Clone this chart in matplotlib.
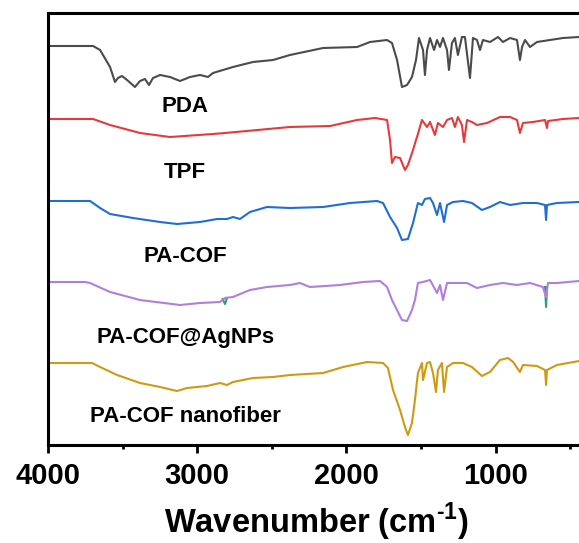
import matplotlib
matplotlib.use("Agg")
import matplotlib.pyplot as plt
from matplotlib.ticker import MultipleLocator

plt.rcParams['font.family'] = ['Liberation Sans', 'DejaVu Sans']
plt.rcParams['mathtext.fontset'] = 'custom'
plt.rcParams['mathtext.rm'] = 'Liberation Sans:bold'
plt.rcParams['mathtext.bf'] = 'Liberation Sans:bold'

# FTIR spectra, wavenumber (cm-1) vs. offset transmittance (a.u.)
pda_w = [4000, 3698, 3651, 3584, 3551, 3531, 3504, 3470, 3417, 3383, 3350, 3323,
         3296, 3249, 3182, 3115, 3048, 2981, 2927, 2894, 2760, 2626, 2492, 2378,
         2156, 1928, 1841, 1727, 1694, 1660, 1627, 1593, 1560, 1533, 1513, 1486,
         1473, 1459, 1439, 1412, 1392, 1372, 1352, 1325, 1312, 1292, 1272, 1252,
         1225, 1205, 1171, 1151, 1124, 1104, 1084, 1037, 983, 950, 902, 856, 836,
         822, 802, 769, 722, 635, 547, 440, 400]
pda_t = [399, 399, 395, 378, 363, 367, 369, 365, 358, 364, 366, 360,
         367, 370, 368, 364, 368, 370, 368, 372, 378, 383, 385, 390,
         397, 398, 403, 405, 402, 385, 358, 360, 368, 385, 407, 395,
         370, 395, 407, 395, 405, 398, 407, 395, 375, 402, 407, 390,
         408, 408, 367, 407, 405, 395, 405, 403, 408, 403, 407, 405, 385,
         398, 405, 398, 403, 405, 407, 408, 408]

tpf_w = [4000, 3698, 3584, 3383, 3182, 2894, 2813, 2378, 2109, 1928, 1807, 1727,
         1707, 1694, 1674, 1640, 1607, 1587, 1553, 1533, 1526, 1493, 1459, 1439,
         1406, 1386, 1352, 1325, 1292, 1272, 1252, 1225, 1211, 1191, 1158, 1124,
         1057, 970, 902, 856, 836, 816, 749, 668, 655, 648, 547, 440, 400]
tpf_t = [326, 326, 320, 312, 308, 311, 312, 318, 319, 325, 327, 325,
         305, 282, 288, 287, 275, 280, 295, 305, 308, 325, 318, 323,
         310, 322, 318, 325, 327, 318, 328, 320, 303, 325, 323, 320,
         322, 328, 328, 325, 312, 322, 323, 325, 317, 324, 326, 327, 327]

pacof_w = [4000, 3718, 3651, 3584, 3430, 3249, 3135, 2981, 2867, 2800, 2760, 2713,
           2646, 2532, 2378, 2156, 1975, 1794, 1754, 1707, 1660, 1627, 1587, 1553,
           1520, 1493, 1473, 1439, 1419, 1392, 1372, 1345, 1325, 1285, 1218, 1158,
           1091, 1037, 970, 902, 816, 722, 668, 661, 655, 588, 440, 400]
pacof_t = [244, 244, 237, 231, 227, 223, 221, 223, 226, 226, 228, 226,
           233, 238, 237, 238, 242, 244, 242, 228, 217, 205, 206, 222,
           242, 240, 246, 247, 242, 230, 242, 223, 240, 243, 244, 242,
           235, 238, 243, 240, 242, 242, 240, 225, 240, 242, 243, 243]

agnp_w = [4000, 3752, 3718, 3584, 3383, 3115, 2981, 2847, 2813, 2760, 2646, 2532,
          2378, 2311, 2244, 2042, 1888, 1774, 1727, 1694, 1627, 1593, 1560, 1540,
          1520, 1486, 1439, 1392, 1372, 1352, 1325, 1258, 1191, 1124, 1037, 950,
          856, 769, 682, 661, 648, 588, 440, 400]
agnp_t = [163, 163, 162, 153, 145, 140, 142, 143, 147, 148, 155, 158,
          160, 162, 158, 160, 163, 164, 158, 145, 125, 124, 135, 145,
          162, 163, 165, 152, 160, 145, 162, 162, 162, 157, 160, 162,
          160, 162, 158, 148, 162, 162, 164, 164]

# small green traces visible under the AgNPs spectrum
green_w = [[2830, 2813, 2800], [668, 661, 655]]
green_t = [[146, 141, 147], [158, 138, 158]]

fiber_w = [4000, 3705, 3651, 3537, 3383, 3249, 3135, 3068, 2934, 2847, 2800, 2760,
           2626, 2492, 2378, 2156, 2022, 1861, 1754, 1721, 1687, 1640, 1607, 1587,
           1560, 1540, 1520, 1493, 1486, 1459, 1439, 1419, 1399, 1386, 1359, 1345,
           1325, 1285, 1218, 1158, 1091, 1037, 970, 916, 882, 836, 816, 722, 668,
           661, 655, 588, 440, 400]
fiber_t = [82, 82, 78, 70, 62, 58, 54, 57, 59, 62, 60, 63,
           67, 68, 70, 72, 78, 83, 82, 77, 55, 35, 18, 10,
           22, 45, 72, 82, 65, 82, 83, 72, 53, 75, 82, 53,
           78, 82, 82, 78, 69, 73, 85, 87, 83, 73, 80, 79, 75,
           60, 75, 80, 84, 84]

names = ['PDA', 'TPF', 'PA-COF', 'PA-COF@AgNPs', 'PA-COF nanofiber']
label_y = [338, 272, 188, 108, 29]
colors = ['#4b4b4b', '#e53a3d', '#1f6ed4', '#b07fdb', '#cf9a12']

fig = plt.figure(figsize=(5.79, 5.43), dpi=100)
ax = fig.add_axes([48 / 579, 98 / 543, 537 / 579, 432 / 543])

series = [(pda_w, pda_t), (tpf_w, tpf_t), (pacof_w, pacof_t),
          (agnp_w, agnp_t), (fiber_w, fiber_t)]
for gw, gt in zip(green_w, green_t):
    ax.plot(gw, gt, color='#2f9e6e', lw=1.5)
for (w, t), c in zip(series, colors):
    ax.plot(w, t, color=c, lw=1.5)

for name, y in zip(names, label_y):
    ax.text(3080, y, name, ha='center', va='center', fontsize=16,
            fontweight='bold')

ax.set_xlim(4000, 400)
ax.set_ylim(0, 432)
ax.set_yticks([])
ax.xaxis.set_major_locator(MultipleLocator(1000))
ax.xaxis.set_minor_locator(MultipleLocator(500))
ax.tick_params(axis='x', which='major', length=6, width=2, pad=6,
               labelsize=21)
ax.tick_params(axis='x', which='minor', length=3, width=2)
for lbl in ax.get_xticklabels():
    lbl.set_fontweight('bold')
for s in ['left', 'top', 'bottom']:
    ax.spines[s].set_linewidth(2.2)
ax.spines['right'].set_visible(False)
ax.set_xlabel(r'Wavenumber (cm$^{\text{-}\mathbf{1}}$)', fontsize=23.5,
              fontweight='bold', labelpad=8)

fig.savefig('out.png', dpi=100)
